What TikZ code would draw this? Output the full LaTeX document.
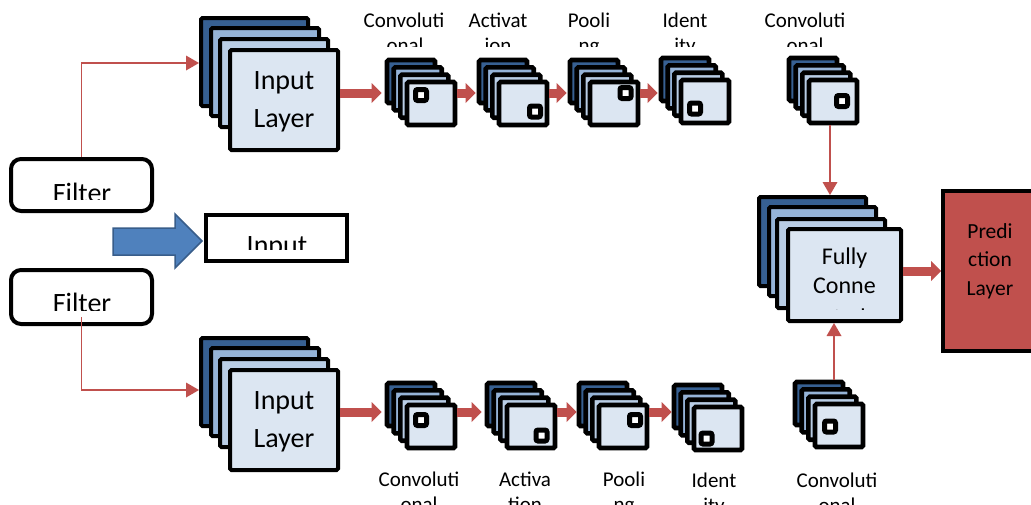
\documentclass[tikz,border=0pt]{standalone}
\usepackage{fontspec}
\setmainfont{Carlito}
\usetikzlibrary{arrows.meta}
\definecolor{dkblue}{HTML}{376092}
\definecolor{mdblue}{HTML}{95B3D7}
\definecolor{ltblue}{HTML}{B9CDE5}
\definecolor{pale}{HTML}{DCE6F2}
\definecolor{redc}{HTML}{C0504D}
\definecolor{arrfill}{HTML}{4F81BD}
\definecolor{arrdraw}{HTML}{385D8A}
\tikzset{
 layer/.style={draw=black, line width=4pt, rectangle, inner sep=0pt, rounded corners=1.5pt},
 slayer/.style={layer, line width=4.6pt},
 blk/.style={draw=redc, line width=9pt, -{Triangle[length=10pt,width=20pt,line width=0pt]}},
 conn/.style={draw=redc, line width=1.8pt, -{Triangle[length=13pt,width=15pt,line width=0pt]}},
 pix/.style={draw=black, fill=white, line width=5pt, minimum size=11pt, inner sep=0pt, rounded corners=2pt},
 fbox/.style={draw=black, fill=white, line width=4pt, rounded corners=10pt, inner sep=0pt},
 ibox/.style={draw=black, fill=white, line width=4pt, inner sep=0pt},
 lbl/.style={font=\fontsize{21}{24}\selectfont, inner sep=0pt, anchor=base},
 big/.style={font=\fontsize{28}{34}\selectfont, inner sep=0pt, anchor=base},
 mid/.style={font=\fontsize{24}{29}\selectfont, inner sep=0pt, anchor=base},
 prd/.style={font=\fontsize{21.5}{26}\selectfont, inner sep=0pt, anchor=base},
}
\newcommand\lay[7][layer]{%
 \pgfmathsetmacro\laywd{(#6)-(#4)-4}%
 \pgfmathsetmacro\layht{(#7)-(#5)-4}%
 \node[#1,fill=#3,minimum width=\laywd pt,minimum height=\layht pt] (#2) at ({((#4)+(#6))/2},{((#5)+(#7))/2}) {};}
\newcommand\smallstack[3]{%
 \lay[slayer]{#1a}{dkblue}{#2}{#3}{#2+52}{#3+47}
 \lay[slayer]{#1b}{mdblue}{#2+6.7}{#3+7.3}{#2+58.7}{#3+54.3}
 \lay[slayer]{#1c}{ltblue}{#2+13.3}{#3+14.7}{#2+65.3}{#3+61.7}
 \lay[slayer]{#1d}{pale}{#2+20}{#3+22}{#2+72}{#3+69}}
\newcommand\bigstack[3]{%
 \lay{#1a}{dkblue}{#2}{#3}{#2+111}{#3+92}
 \lay{#1b}{mdblue}{#2+10}{#3+10}{#2+122}{#3+102}
 \lay{#1c}{ltblue}{#2+19}{#3+21}{#2+131}{#3+113}
 \lay{#1d}{pale}{#2+29}{#3+32}{#2+141}{#3+136}}
\begin{document}
\begin{tikzpicture}[x=1pt,y=-1pt]
\clip (0,0) rectangle (1031,504);
\fill[white] (0,0) rectangle (1031,504);

% helper coordinates for connector heights
\coordinate (yt) at (0,93);
\coordinate (yb) at (0,412);
\coordinate (ty1) at (0,63);
\coordinate (ty2) at (0,390);
\coordinate (yp) at (0,271);

% Filter and Input boxes
\node[fbox, minimum width=141pt, minimum height=52pt] (f1) at (81.5,185) {};
\node[fbox, minimum width=141pt, minimum height=54pt] (f2) at (81.5,297) {};
\node[ibox, minimum width=141pt, minimum height=46pt] (inp) at (276.5,238) {};
\begin{scope}
 \clip (10,160) rectangle (153,199);
 \node[big] (f1t) at (82,202) {Filter};
\end{scope}
\begin{scope}
 \clip (10,270) rectangle (153,310);
 \node[big] (f2t) at (82,312) {Filter};
\end{scope}
\begin{scope}
 \clip (206,215) rectangle (347,249);
 \node[big] (inpt) at (277,254) {Input};
\end{scope}
% blue block arrow
\draw[fill=arrfill, draw=arrdraw, line width=1.5pt, line join=miter]
 (113,228) -- (175,228) -- (175,214) -- (202,241) -- (175,268) -- (175,255) -- (113,255) -- cycle;

% Input layer stacks
\bigstack{ia}{199}{16}
\bigstack{ib}{199}{336}
\node[big] (ia1) at (284,89) {Input};
\node[big] (ia2) at (284,127.5) {Layer};
\node[big] (ib1) at (284,409) {Input};
\node[big] (ib2) at (284,447.5) {Layer};

% top row small stacks
\smallstack{s1}{385}{58}
\smallstack{s2}{477}{58}
\smallstack{s3}{568}{58}
\smallstack{s4}{659}{56}
\smallstack{s5}{787}{56}
\node[pix] (p1) at (421,95) {};
\node[pix] (p2) at (535,111.5) {};
\node[pix] (p3) at (625.5,93) {};
\node[pix] (p4) at (695,108.5) {};
\node[pix] (p5) at (842,101) {};

% bottom row small stacks
\smallstack{b1}{385}{381}
\smallstack{b2}{485}{381}
\smallstack{b3}{577}{381}
\smallstack{b4}{672}{383}
\smallstack{b5}{793}{380}
\node[pix] (q1) at (421,420) {};
\node[pix] (q2) at (541.5,435.5) {};
\node[pix] (q3) at (635,420) {};
\node[pix] (q4) at (706.5,438.5) {};
\node[pix] (q5) at (830,426.5) {};

% Fully connected stack
\lay{fcA}{dkblue}{757}{195}{868}{288}
\lay{fcB}{mdblue}{767}{205}{878}{298}
\lay{fcC}{ltblue}{775}{217}{887}{310}
\lay{fcD}{pale}{786}{227}{903}{323}
\node[mid] (fc1) at (844.5,264) {Fully};
\node[mid] (fc2) at (844.5,293) {Conne};
\begin{scope}
 \clip (788,229) rectangle (901,309);
 \node[mid] (fc3) at (844.5,325) {cted};
\end{scope}

% Prediction layer
\node[draw=black, fill=redc, line width=4pt, inner sep=0pt, minimum width=94pt, minimum height=160pt] (pred) at (990,271) {};
\node[prd] (pr1) at (990,238) {Predi};
\node[prd] (pr2) at (990,266.5) {ction};
\node[prd] (pr3) at (990,295) {Layer};

% labels top
\node[lbl] (lt1) at (404,27) {Convoluti};
\node[lbl] (lt2) at (498,27) {Activat};
\node[lbl] (lt3) at (589,27) {Pooli};
\node[lbl] (lt4) at (685,27) {Ident};
\node[lbl] (lt5) at (805,27) {Convoluti};
\begin{scope}
 \clip (340,0) rectangle (900,46);
 \node[lbl] (lu1) at (405,52.5) {onal};
 \node[lbl] (lu2) at (498,52.5) {ion};
 \node[lbl] (lu3) at (589,52.5) {ng};
 \node[lbl] (lu4) at (685,52.5) {ity};
 \node[lbl] (lu5) at (805,52.5) {onal};
\end{scope}
% labels bottom
\node[lbl] (lb1) at (419,486) {Convoluti};
\node[lbl] (lb2) at (525,486) {Activa};
\node[lbl] (lb3) at (624,486) {Pooli};
\node[lbl] (lb4) at (714,487) {Ident};
\node[lbl] (lb5) at (837,487) {Convoluti};
\node[lbl] (lc1) at (419,511.5) {onal};
\node[lbl] (lc2) at (525,511.5) {tion};
\node[lbl] (lc3) at (624,511.5) {ng};
\node[lbl] (lc4) at (714,512) {ity};
\node[lbl] (lc5) at (837,512) {onal};

% thick red arrows
\draw[blk, shorten >=3pt] (iad.east |- yt) -- (s1a.west |- yt);
\draw[blk, shorten >=1pt] (s1d.east |- yt) -- (s2a.west |- yt);
\draw[blk, shorten >=1pt] (s2d.east |- yt) -- (s3a.west |- yt);
\draw[blk, shorten >=1pt] (s3d.east |- yt) -- (s4a.west |- yt);
\draw[blk, shorten >=3pt] (ibd.east |- yb) -- (b1a.west |- yb);
\draw[blk, shorten >=3pt] (b1d.east |- yb) -- (b2a.west |- yb);
\draw[blk] (b2d.east |- yb) -- (b3a.west |- yb);
\draw[blk] (b3d.east |- yb) -- (b4a.west |- yb);
\draw[blk] (fcD.east |- yp) -- (pred.west |- yp);

% thin red connectors
\draw[conn] (f1.north) |- (iaa.west |- ty1);
\draw[conn] ([yshift=9pt]f2.south) |- (iba.west |- ty2);
\coordinate (v1) at ([xshift=-3pt]s5d.south);
\draw[conn] (v1) -- (v1 |- fcA.north);
\coordinate (v2) at ([xshift=-5pt]b5d.north);
\draw[conn] (v2 |- b5a.north) -- (v2 |- fcD.south);
\end{tikzpicture}
\end{document}
